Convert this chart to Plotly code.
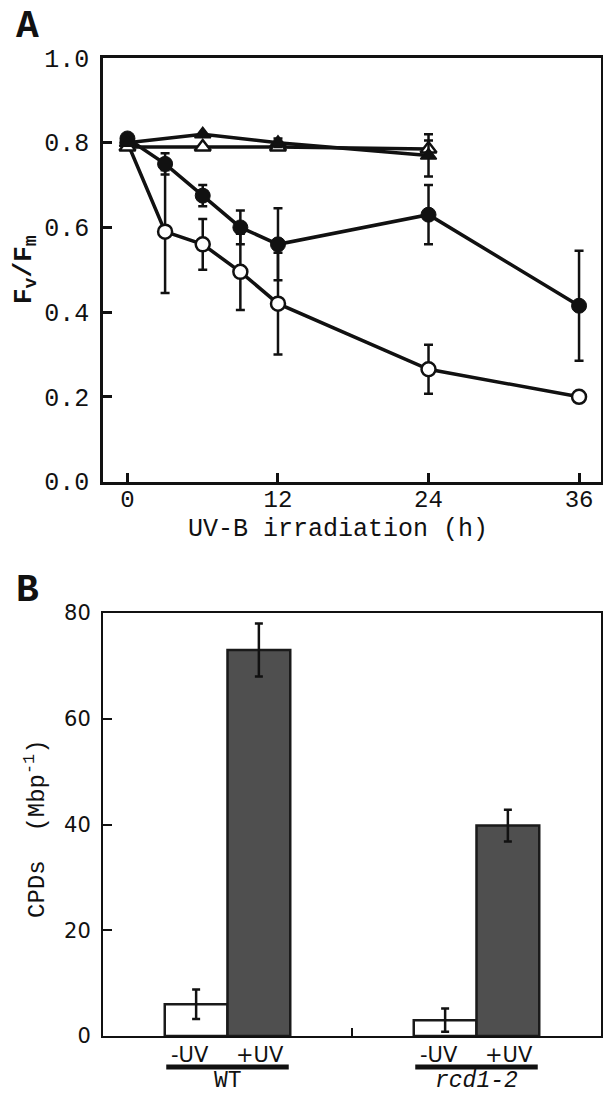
import plotly.graph_objects as go

# ---------------- Panel A data ----------------
time_circles = [0, 3, 6, 9, 12, 24, 36]
filled_circle = [0.81, 0.75, 0.675, 0.60, 0.56, 0.63, 0.415]
filled_circle_err = [0.0, 0.025, 0.025, 0.04, 0.085, 0.07, 0.13]
open_circle = [0.80, 0.59, 0.56, 0.495, 0.42, 0.265, 0.20]
open_circle_err = [0.0, 0.145, 0.06, 0.09, 0.12, 0.058, 0.0]

time_triangles = [0, 6, 12, 24]
filled_triangle = [0.80, 0.82, 0.80, 0.77]
filled_triangle_err = [0.0, 0.0, 0.01, 0.05]
open_triangle = [0.79, 0.79, 0.79, 0.785]
open_triangle_err = [0.0, 0.0, 0.0, 0.02]

x_ticks_a = [0, 12, 24, 36]
y_ticks_a = [0.0, 0.2, 0.4, 0.6, 0.8, 1.0]

# ---------------- Panel B data ----------------
genotypes = ["WT", "rcd1-2"]
genotype_labels = ["WT", "<i>rcd1-2</i>"]
group_pos = [0, 1]
minus_uv = [6.0, 3.0]
minus_uv_err = [2.8, 2.2]
plus_uv = [73.0, 39.8]
plus_uv_err = [5.0, 3.0]
y_ticks_b = [0, 20, 40, 60, 80]

MONO = "Liberation Mono"
SANS = "DejaVu Sans"
W, H = 603, 1096
BLACK = "#111111"

fig = go.Figure()

def err(arr, w=4.5):
    return dict(type="data", array=arr, visible=True, color=BLACK, thickness=2.5, width=w)

# open circles
fig.add_trace(go.Scatter(x=time_circles, y=open_circle, error_y=err(open_circle_err),
                         mode="lines+markers", line=dict(color=BLACK, width=3.5),
                         marker=dict(symbol="circle", size=14, color="white",
                                     line=dict(color=BLACK, width=2.5)),
                         xaxis="x", yaxis="y", showlegend=False))
# filled circles
fig.add_trace(go.Scatter(x=time_circles, y=filled_circle, error_y=err(filled_circle_err),
                         mode="lines+markers", line=dict(color=BLACK, width=3.5),
                         marker=dict(symbol="circle", size=15, color=BLACK,
                                     line=dict(color=BLACK, width=1)),
                         xaxis="x", yaxis="y", showlegend=False))
# open triangles
fig.add_trace(go.Scatter(x=time_triangles, y=open_triangle, error_y=err(open_triangle_err),
                         mode="lines+markers", line=dict(color=BLACK, width=3.5),
                         marker=dict(symbol="triangle-up", size=14, color="white",
                                     line=dict(color=BLACK, width=2.5)),
                         xaxis="x", yaxis="y", showlegend=False))
# filled triangles
fig.add_trace(go.Scatter(x=time_triangles, y=filled_triangle, error_y=err(filled_triangle_err),
                         mode="lines+markers", line=dict(color=BLACK, width=3.5),
                         marker=dict(symbol="triangle-up", size=14, color=BLACK,
                                     line=dict(color=BLACK, width=1.5)),
                         xaxis="x", yaxis="y", showlegend=False))

# Panel B bars
fig.add_trace(go.Bar(x=group_pos, y=minus_uv, error_y=err(minus_uv_err, 4),
                     marker=dict(color="white", line=dict(color="#1a1a1a", width=2.5)),
                     xaxis="x2", yaxis="y2", showlegend=False))
fig.add_trace(go.Bar(x=group_pos, y=plus_uv, error_y=err(plus_uv_err, 4),
                     marker=dict(color="#4f4f4f", line=dict(color="#1a1a1a", width=2.5)),
                     xaxis="x2", yaxis="y2", showlegend=False))

x_dom = [103 / W, 601 / W]
ya_dom = [1 - 481.5 / H, 1 - 58 / H]
yb_dom = [1 - 1036 / H, 1 - 613 / H]

axis_common = dict(showgrid=False, zeroline=False, showline=True, mirror=True,
                   linecolor=BLACK, ticks="inside", tickcolor=BLACK, automargin=False)

fig.update_layout(
    width=W, height=H,
    margin=dict(l=0, r=0, t=0, b=0, pad=0, autoexpand=False),
    paper_bgcolor="white", plot_bgcolor="white",
    barmode="group", bargap=0.496, bargroupgap=0,
    xaxis=dict(**axis_common, domain=x_dom, range=[-1.95, 37.75], tickvals=x_ticks_a,
               ticklen=9, tickwidth=2.5, linewidth=2.5, ticklabelstandoff=-6,
               tickfont=dict(family=MONO, size=24, color=BLACK), anchor="y"),
    yaxis=dict(**axis_common, domain=ya_dom, range=[0, 1], tickvals=y_ticks_a,
               tickformat=".1f", ticklen=9, tickwidth=2.5, linewidth=2.5,
               ticklabelstandoff=6,
               tickfont=dict(family=MONO, size=25, color=BLACK), anchor="x"),
    xaxis2=dict(**axis_common, domain=x_dom, range=[-0.5, 1.5], tickvals=[0.5],
                ticktext=[""], ticklen=8, tickwidth=2, linewidth=2, anchor="y2"),
    yaxis2=dict(**axis_common, domain=yb_dom, range=[0, 80], tickvals=y_ticks_b,
                ticklen=9, tickwidth=2, linewidth=2, ticklabelstandoff=6,
                tickfont=dict(family=SANS, size=21, color=BLACK), anchor="x2"),
)

annotations = [
    dict(text="<b>A</b>", x=27 / W, y=1 - 27 / H, font=dict(family=MONO, size=38, color=BLACK)),
    dict(text="<b>B</b>", x=27 / W, y=1 - 590 / H, font=dict(family=MONO, size=38, color=BLACK)),
    dict(text="UV-B irradiation (h)", x=338 / W, y=1 - 530 / H,
         font=dict(family=MONO, size=25, color=BLACK)),
    dict(text="<b>F<sub>v</sub>/F<sub>m</sub></b>", x=25 / W, y=1 - 270 / H, textangle=-90,
         font=dict(family=MONO, size=26, color=BLACK)),
    dict(text="CPDs  (Mbp<sup>-1</sup>)", x=35 / W, y=1 - 829 / H, textangle=-90,
         font=dict(family=MONO, size=24, color=BLACK)),
]
for g, lab in zip(group_pos, genotype_labels):
    annotations.append(dict(text="-UV", x=g - 0.15, xref="x2", y=1 - 1055 / H, yref="paper",
                            font=dict(family=SANS, size=21, color=BLACK)))
    annotations.append(dict(text="+UV", x=g + 0.13, xref="x2", y=1 - 1055 / H, yref="paper",
                            font=dict(family=SANS, size=21, color=BLACK)))
    annotations.append(dict(text=lab, x=g, xref="x2", y=1 - 1081 / H, yref="paper",
                            font=dict(family=MONO, size=23, color=BLACK)))
    fig.add_shape(type="line", x0=g - 0.246, x1=g + 0.246, xref="x2",
                  y0=1 - 1067 / H, y1=1 - 1067 / H, yref="paper",
                  line=dict(color=BLACK, width=5))

for a in annotations:
    a.setdefault("xref", "paper")
    a.setdefault("yref", "paper")
    a["showarrow"] = False
    a["xanchor"] = "center"
    a["yanchor"] = "middle"
    fig.add_annotation(**a)

post = ("document.body.style.margin='0';document.body.style.padding='0';"
        "document.documentElement.style.overflow='hidden';document.body.style.overflow='hidden';")
fig.write_html("out.html", post_script=post, config={"displayModeBar": False})
